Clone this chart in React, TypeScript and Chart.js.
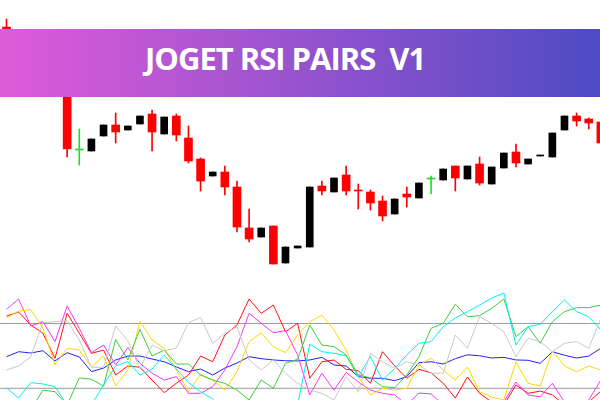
import React, { useEffect, useRef } from "react";
import { Chart, registerables } from "chart.js";

Chart.register(...registerables);

const TITLE = "JOGET RSI PAIRS  V1";

// Candles (price units)
const OPEN = [151.73, 151.40, 151.28, 151.45, 151.34, 151.40, 150.50, 150.49, 150.64, 150.75, 150.70, 150.76, 150.86, 150.66, 150.84, 150.62, 150.41, 150.24, 150.28, 150.13, 149.72, 149.63, 149.74, 149.37, 149.52, 149.53, 150.14, 150.08, 150.25, 150.10, 150.08, 149.99, 149.86, 150.06, 150.02, 150.21, 150.20, 150.34, 150.21, 150.36, 150.16, 150.32, 150.48, 150.36, 150.44, 150.43, 150.70, 150.84, 150.81, 150.78];
const HIGH = [151.81, 151.45, 151.48, 151.52, 151.38, 151.45, 150.71, 150.61, 150.75, 150.87, 150.74, 150.84, 150.90, 150.83, 150.86, 150.74, 150.42, 150.28, 150.34, 150.19, 149.91, 149.72, 149.74, 149.53, 149.54, 150.13, 150.19, 150.22, 150.34, 150.16, 150.10, 150.04, 150.01, 150.13, 150.17, 150.24, 150.31, 150.34, 150.34, 150.43, 150.33, 150.47, 150.56, 150.41, 150.45, 150.67, 150.84, 150.87, 150.82, 150.78];
const LOW = [151.30, 151.25, 151.24, 151.28, 151.15, 150.43, 150.35, 150.49, 150.64, 150.57, 150.70, 150.76, 150.49, 150.66, 150.59, 150.37, 150.09, 150.24, 150.05, 149.68, 149.58, 149.63, 149.36, 149.37, 149.52, 149.53, 150.05, 150.08, 150.05, 149.91, 149.90, 149.79, 149.86, 149.93, 150.02, 150.06, 150.20, 150.09, 150.21, 150.15, 150.16, 150.32, 150.33, 150.36, 150.44, 150.43, 150.70, 150.74, 150.71, 150.57];
const CLOSE = [151.38, 151.30, 151.42, 151.32, 151.22, 150.51, 150.50, 150.61, 150.75, 150.68, 150.74, 150.84, 150.68, 150.83, 150.65, 150.39, 150.19, 150.28, 150.13, 149.73, 149.61, 149.72, 149.36, 149.53, 149.54, 150.13, 150.09, 150.22, 150.09, 150.09, 149.97, 149.84, 150.01, 150.03, 150.17, 150.21, 150.31, 150.22, 150.34, 150.17, 150.33, 150.47, 150.37, 150.41, 150.45, 150.67, 150.84, 150.79, 150.77, 150.57];

// RSI pairs
const RSI_RED = [74.6, 77.1, 69.1, 64.0, 48.5, 76.3, 64.0, 51.6, 53.6, 38.2, 43.8, 43.0, 35.1, 27.3, 33.1, 38.2, 49.9, 46.4, 62.9, 69.1, 85.1, 76.3, 81.4, 64.9, 70.1, 36.2, 46.4, 47.5, 41.7, 40.9, 33.1, 52.6, 43.8, 36.2, 41.7, 39.6, 33.1, 24.0, 37.0, 26.9, 21.5, 19.7, 32.0, 26.9, 28.3, 25.9, 19.7, 17.8, 21.5, 28.3];
const RSI_MAGENTA = [78.8, 85.1, 68.5, 71.1, 58.8, 80.8, 67.0, 52.0, 56.7, 44.4, 55.1, 45.4, 39.3, 35.1, 37.2, 26.9, 26.9, 31.0, 41.3, 55.7, 76.3, 70.1, 64.3, 65.6, 50.6, 25.9, 39.3, 28.9, 39.8, 33.9, 28.9, 26.9, 25.9, 19.7, 27.1, 26.5, 19.7, 16.6, 16.6, 16.6, 16.6, 21.5, 33.9, 25.9, 24.8, 33.1, 21.5, 16.6, 22.8, 35.1];
const RSI_GOLD = [73.4, 77.7, 78.6, 67.2, 44.4, 54.7, 53.6, 43.3, 49.9, 31.4, 41.3, 71.5, 59.8, 54.7, 41.3, 27.9, 38.6, 35.1, 28.9, 40.2, 58.8, 64.3, 55.7, 52.0, 62.9, 71.1, 75.2, 66.0, 53.6, 37.2, 25.9, 30.0, 28.9, 30.0, 44.4, 48.5, 41.3, 35.1, 43.1, 27.9, 24.6, 22.8, 46.2, 33.1, 31.4, 53.0, 43.8, 40.2, 43.8, 41.3];
const RSI_SILVER = [41.3, 43.8, 49.5, 70.5, 71.1, 71.7, 59.8, 43.0, 43.0, 68.5, 59.4, 42.3, 56.7, 53.2, 54.7, 70.5, 73.8, 57.8, 64.0, 68.0, 47.5, 41.3, 47.5, 39.3, 33.1, 28.9, 26.9, 22.8, 37.2, 27.9, 51.6, 46.4, 42.3, 46.4, 44.4, 39.3, 39.3, 62.9, 54.7, 74.2, 70.1, 64.9, 49.5, 60.9, 58.8, 52.6, 57.8, 58.8, 54.7, 73.2];
const RSI_BLUE = [49.5, 52.6, 51.8, 53.2, 46.9, 52.0, 49.3, 40.3, 42.5, 47.5, 49.9, 49.9, 48.1, 46.4, 43.2, 40.3, 41.9, 38.2, 42.5, 45.6, 49.5, 48.3, 47.5, 47.0, 46.9, 47.5, 49.1, 44.4, 43.8, 37.2, 36.2, 36.2, 34.7, 37.2, 45.8, 46.4, 45.0, 48.3, 50.7, 50.1, 48.7, 49.1, 47.5, 47.3, 45.4, 52.6, 50.4, 48.7, 49.9, 54.7];
const RSI_GREEN = [16.6, 16.6, 16.6, 28.9, 27.9, 19.7, 36.4, 35.6, 31.4, 60.1, 47.5, 66.4, 49.9, 53.6, 45.0, 45.0, 38.2, 35.1, 33.1, 28.9, 22.8, 35.1, 30.0, 45.4, 47.9, 69.1, 56.7, 55.7, 50.6, 38.2, 36.5, 31.0, 30.4, 38.2, 49.5, 67.0, 70.1, 81.9, 74.2, 74.8, 79.4, 85.1, 61.9, 68.0, 57.8, 71.1, 77.3, 79.8, 79.8, 81.4];
const RSI_CYAN = [30.2, 24.0, 33.5, 32.7, 31.0, 19.7, 16.6, 19.7, 32.0, 43.8, 46.5, 38.2, 41.9, 50.6, 41.9, 33.6, 27.9, 23.4, 16.6, 16.6, 16.6, 16.6, 16.6, 16.6, 19.7, 57.2, 52.6, 51.6, 50.1, 37.2, 49.5, 35.1, 42.3, 50.6, 57.8, 58.8, 68.0, 73.4, 77.3, 81.4, 85.7, 88.8, 56.7, 68.0, 69.5, 77.3, 84.5, 77.3, 74.2, 66.0];
const LEVELS = [70, 30];

const RSI_SERIES: [number[], string][] = [
  [RSI_SILVER, "#c8c8c8"],
  [RSI_CYAN, "#00f0f0"],
  [RSI_GREEN, "#3ccc3c"],
  [RSI_GOLD, "#ffd700"],
  [RSI_MAGENTA, "#ff30ff"],
  [RSI_RED, "#ff1010"],
  [RSI_BLUE, "#2020ff"],
];

const BEAR = "#ff0000";
const BULL = "#000000";
const DOJI = "#22dd22";

function candleColor(i: number): string {
  if (CLOSE[i] < OPEN[i]) return BEAR;
  if (CLOSE[i] > OPEN[i]) return BULL;
  return DOJI;
}

export default function App() {
  const ref = useRef<HTMLCanvasElement | null>(null);

  useEffect(() => {
    if (!ref.current) return;
    const idx = OPEN.map((_, i) => i);
    const bearIdx = idx.filter((i) => CLOSE[i] <= OPEN[i]);
    const bullIdx = idx.filter((i) => CLOSE[i] > OPEN[i]);

    const datasets: any[] = [];
    datasets.push({
      type: "bar",
      data: bearIdx.map((i) => ({ x: i, y: [OPEN[i], CLOSE[i]] })),
      backgroundColor: bearIdx.map((i) => candleColor(i)),
      barThickness: 8,
      minBarLength: 1,
      grouped: false,
      yAxisID: "y",
      order: 0,
    });
    datasets.push({
      type: "bar",
      data: bullIdx.map((i) => ({ x: i, y: [OPEN[i], CLOSE[i]] })),
      backgroundColor: BULL,
      barThickness: 7,
      minBarLength: 1,
      grouped: false,
      yAxisID: "y",
      order: 0,
    });
    datasets.push({
      type: "bar",
      data: idx.map((i) => ({ x: i, y: [LOW[i], HIGH[i]] })),
      backgroundColor: idx.map((i) => candleColor(i)),
      barThickness: 1,
      grouped: false,
      yAxisID: "y",
      order: 1,
    });
    RSI_SERIES.forEach(([vals, color], k) => {
      datasets.push({
        type: "line",
        data: vals.map((v, i) => ({ x: i, y: v })),
        borderColor: color,
        borderWidth: 1,
        pointRadius: 0,
        tension: 0,
        fill: false,
        yAxisID: "y2",
        order: 2 + k,
      });
    });
    LEVELS.forEach((lv) => {
      datasets.push({
        type: "line",
        data: [
          { x: -1, y: lv },
          { x: 50, y: lv },
        ],
        borderColor: "#9a9a9a",
        borderWidth: 1,
        pointRadius: 0,
        fill: false,
        yAxisID: "y2",
        order: 20,
      });
    });

    const chart = new Chart(ref.current, {
      type: "bar",
      data: { datasets },
      options: {
        responsive: false,
        animation: false,
        events: [],
        layout: { padding: 0 },
        plugins: { legend: { display: false }, tooltip: { enabled: false }, title: { display: false } },
        scales: {
          x: { type: "linear", min: -0.536, max: 48.928, display: false, offset: false },
          y: { type: "linear", min: 148, max: 152, display: false },
          y2: { type: "linear", min: 22.78, max: 269.7, display: false },
        },
      } as any,
    });
    return () => chart.destroy();
  }, []);

  return (
    <div style={{ position: "fixed", left: 0, top: 0, width: 600, height: 400, background: "#fff", overflow: "hidden" }}>
      <canvas ref={ref} width={600} height={400} style={{ position: "absolute", left: 0, top: 0, width: 600, height: 400, display: "block" }} />
      <div
        style={{
          position: "absolute",
          left: 0,
          top: 29,
          width: 600,
          height: 68,
          background: "linear-gradient(90deg, rgb(223,91,217) 0%, rgb(78,75,195) 100%)",
        }}
      />
      <span
        style={{
          position: "absolute",
          left: 145,
          top: 43,
          color: "#fff",
          fontFamily: "'Open Sans', sans-serif",
          fontWeight: 700,
          fontSize: 31,
          lineHeight: "31px",
          letterSpacing: "-1px",
          whiteSpace: "pre",
        }}
      >
        {TITLE}
      </span>
    </div>
  );
}
